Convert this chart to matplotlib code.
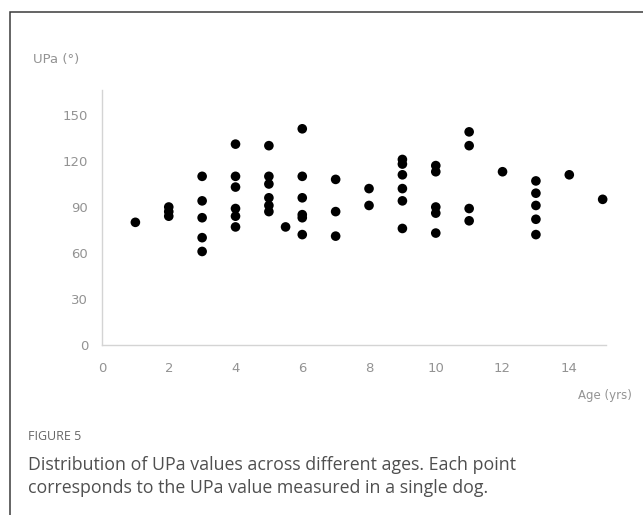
import matplotlib.pyplot as plt
from matplotlib.patches import Rectangle

# ages (yrs) and UPa values (deg), one entry per dog
ages = [1,
        2, 2, 2,
        3, 3, 3, 3, 3,
        4, 4, 4, 4, 4, 4,
        5, 5, 5, 5, 5, 5,
        5.5,
        6, 6, 6, 6, 6, 6,
        7, 7, 7,
        8, 8,
        9, 9, 9, 9, 9, 9,
        10, 10, 10, 10, 10,
        11, 11, 11, 11,
        12,
        13, 13, 13, 13, 13,
        14,
        15]
upa = [80,
       84, 87, 90,
       110, 94, 83, 70, 61,
       131, 110, 103, 89, 84, 77,
       130, 110, 105, 96, 91, 87,
       77,
       141, 110, 96, 85, 83, 72,
       108, 87, 71,
       102, 91,
       121, 118, 111, 102, 94, 76,
       117, 113, 90, 86, 73,
       139, 130, 89, 81,
       113,
       107, 99, 91, 82, 72,
       111,
       95]

x_ticks = [0, 2, 4, 6, 8, 10, 12, 14]
y_ticks = [0, 30, 60, 90, 120, 150]

W, H = 643, 515
fig = plt.figure(figsize=(W / 100, H / 100), dpi=100)

# outer frame of the figure panel
fig.patches.append(Rectangle((10 / W, -0.1), 1.2, 1 - 12 / H + 0.1,
                             transform=fig.transFigure, fill=False,
                             edgecolor='#3a3a3a', linewidth=1.1))

ax = fig.add_axes([102 / W, 1 - 345 / H, 504 / W, 255 / H])
ax.scatter(ages, upa, s=48, color='black', edgecolors='none', clip_on=False, zorder=3)
ax.set_xlim(0, 15.1)
ax.set_ylim(0, 166.3)
ax.set_xticks(x_ticks)
ax.set_yticks(y_ticks)

for side in ['top', 'right']:
    ax.spines[side].set_visible(False)
for side in ['left', 'bottom']:
    ax.spines[side].set_color('#d4d4d4')
    ax.spines[side].set_linewidth(1.0)
ax.tick_params(axis='both', length=0, colors='#939393', labelsize=9.5)
ax.tick_params(axis='x', pad=12)
ax.tick_params(axis='y', pad=10)

fig.text(33 / W, 1 - 59 / H, 'UPa (°)', fontsize=9.5, color='#939393', va='center', ha='left')
fig.text(632 / W, 1 - 396 / H, 'Age (yrs)', fontsize=8.5, color='#939393', va='center', ha='right')

fig.text(28 / W, 1 - 437 / H, 'FIGURE 5', fontsize=9, color='#666666',
         family='Open Sans', va='center', ha='left')
fig.text(28 / W, 1 - 465 / H, 'Distribution of UPa values across different ages. Each point',
         fontsize=12.8, color='#4f4f4f', family='Open Sans', va='center', ha='left')
fig.text(28 / W, 1 - 488 / H, 'corresponds to the UPa value measured in a single dog.',
         fontsize=12.8, color='#4f4f4f', family='Open Sans', va='center', ha='left')

fig.savefig('out.png', dpi=100)
